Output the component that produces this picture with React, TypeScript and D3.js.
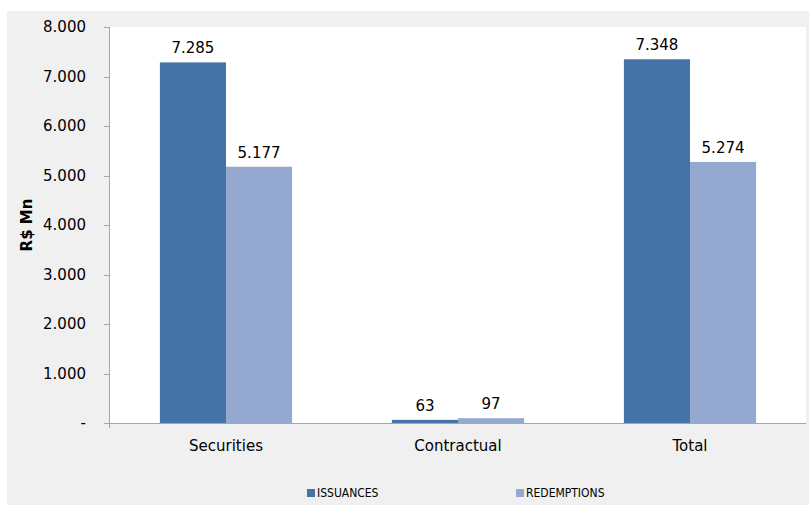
import React from "react";
import * as d3 from "d3";

const categories = ["Securities", "Contractual", "Total"];
const seriesNames = ["ISSUANCES", "REDEMPTIONS"];
const issuances = [7285, 63, 7348];
const redemptions = [5177, 97, 5274];
const yTicks = [0, 1000, 2000, 3000, 4000, 5000, 6000, 7000, 8000];
const colors = ["#4572A7", "#94A8D0"];

const fmt = (v: number) => (v === 0 ? "-" : d3.format(",")(v).replace(/,/g, "."));

export default function App() {
  const W = 809, H = 508;
  const left = 110, right = 806, top = 27, bottom = 423;
  const x = d3.scaleBand<string>().domain(categories).range([left, right]).padding(0);
  const y = d3.scaleLinear().domain([0, 8000]).range([bottom, top]);
  const barW = x.bandwidth() * 0.285;
  const series = [issuances, redemptions];
  const font = "'DejaVu Sans', Verdana, sans-serif";

  return (
    <svg width={W} height={H} style={{ position: "absolute", left: 0, top: 0 }}>
      <rect x={7} y={11} width={W - 7} height={494} fill="#f0f0f0" />
      <rect x={left} y={top} width={right - left} height={bottom - top} fill="#ffffff" />
      {series.map((vals, si) =>
        vals.map((v, i) => {
          const cx = x(categories[i])! + x.bandwidth() / 2;
          const bx = cx - barW + si * barW;
          return (
            <g key={`${si}-${i}`}>
              <rect x={bx} y={y(v)} width={barW} height={bottom - y(v)} fill={colors[si]} />
              <text x={bx + barW / 2} y={y(v) - 9} textAnchor="middle" fontFamily={font} fontSize={15} fill="#000">
                {fmt(v)}
              </text>
            </g>
          );
        })
      )}
      {/* axes */}
      <line x1={left - 0.5} x2={left - 0.5} y1={top} y2={bottom + 5} stroke="#a6a6a6" />
      <line x1={left - 6} x2={right} y1={bottom + 0.5} y2={bottom + 0.5} stroke="#a6a6a6" />
      {yTicks.map((t) => (
        <g key={t}>
          <line x1={left - 6} x2={left} y1={Math.round(y(t)) + 0.5} y2={Math.round(y(t)) + 0.5} stroke="#a6a6a6" />
          <text x={86} y={y(t) + 5} textAnchor="end" fontFamily={font} fontSize={15} fill="#000">
            {fmt(t)}
          </text>
        </g>
      ))}
      {categories.map((c) => (
        <text key={c} x={x(c)! + x.bandwidth() / 2} y={451} textAnchor="middle" fontFamily={font} fontSize={15} fill="#000">
          {c}
        </text>
      ))}
      <text transform={`translate(32,${(top + bottom) / 2}) rotate(-90)`} textAnchor="middle" fontFamily={font} fontSize={15} fontWeight="bold" fill="#000">
        R$ Mn
      </text>
      {/* legend */}
      {seriesNames.map((s, i) => {
        const lx = [307, 516][i];
        return (
          <g key={s}>
            <rect x={lx} y={489} width={8} height={8} fill={colors[i]} />
            <text x={lx + 10} y={497} fontFamily="'DejaVu Sans Condensed', 'DejaVu Sans', sans-serif" fontSize={12} fill="#000">
              {s}
            </text>
          </g>
        );
      })}
    </svg>
  );
}
